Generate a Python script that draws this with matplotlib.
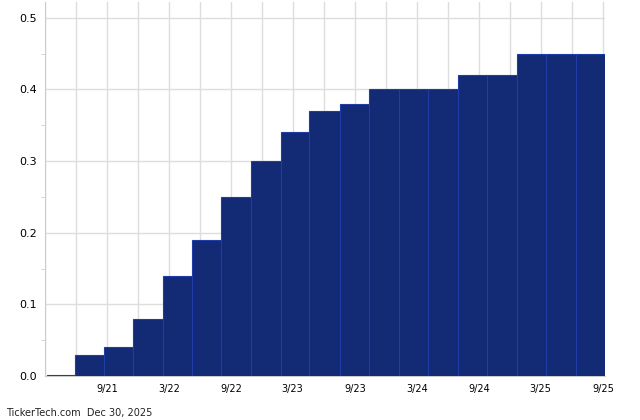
import numpy as np
import matplotlib
matplotlib.use('Agg')
import matplotlib.pyplot as plt
import matplotlib.dates as mdates
from matplotlib.ticker import MultipleLocator

# Fechas de pago (inicio de cada barra) y valores
fechas = ['2021-03-06', '2021-05-28', '2021-08-21', '2021-11-15', '2022-02-12',
          '2022-05-07', '2022-08-03', '2022-10-28', '2023-01-25', '2023-04-19',
          '2023-07-19', '2023-10-13', '2024-01-10', '2024-04-04', '2024-07-01',
          '2024-09-25', '2024-12-22', '2025-03-16', '2025-06-13']
fecha_fin = '2025-09-07'
valores = [0.001, 0.03, 0.04, 0.08, 0.14, 0.19, 0.25, 0.30, 0.34, 0.37,
           0.38, 0.40, 0.40, 0.40, 0.42, 0.42, 0.45, 0.45, 0.45]
etiquetas_x = ['9/21', '3/22', '9/22', '3/23', '9/23', '3/24', '9/24', '3/25', '9/25']

x = mdates.datestr2num(fechas)
bordes = np.append(x, mdates.datestr2num(fecha_fin))
anchos = np.diff(bordes)

fig = plt.figure(figsize=(6.4, 4.2), dpi=100)
ax = fig.add_axes([45 / 640, 44 / 420, 560 / 640, 374 / 420])

ax.bar(x, valores, width=anchos, align='edge', color='#132a75',
       edgecolor='#1f3cab', linewidth=0.8, zorder=3)

# Ejes
ax.set_xlim(mdates.datestr2num('2021-03-01'), mdates.datestr2num(fecha_fin))
ax.set_ylim(0, 0.522)

ticks_mayores = mdates.datestr2num(['2021-09-01', '2022-03-01', '2022-09-01', '2023-03-01',
                                     '2023-09-01', '2024-03-01', '2024-09-01', '2025-03-01',
                                     '2025-09-01'])
ax.set_xticks(ticks_mayores)
ax.set_xticklabels(etiquetas_x)
ax.xaxis.set_minor_locator(mdates.MonthLocator(bymonth=[3, 6, 9, 12]))
ax.yaxis.set_major_locator(MultipleLocator(0.1))
ax.yaxis.set_minor_locator(MultipleLocator(0.05))
ax.yaxis.set_major_formatter(matplotlib.ticker.FormatStrFormatter('%.1f'))

ax.grid(True, which='major', axis='y', color='#dddddd', linewidth=1, zorder=0)
ax.grid(True, which='both', axis='x', color='#dddddd', linewidth=1, zorder=0)

ax.tick_params(axis='x', which='both', length=0, labelsize=7, pad=6)
ax.tick_params(axis='y', which='major', length=0, labelsize=8, pad=6)
ax.tick_params(axis='y', which='minor', length=3, color='#cccccc')

for lado in ['top', 'right']:
    ax.spines[lado].set_visible(False)
ax.spines['left'].set_color('#cccccc')
ax.spines['bottom'].set_color('#cccccc')

fig.text(6 / 640, 1 - 413 / 420, 'TickerTech.com  Dec 30, 2025', fontsize=7,
         va='center', ha='left', color='#222222')

fig.savefig('out.png', dpi=100)
